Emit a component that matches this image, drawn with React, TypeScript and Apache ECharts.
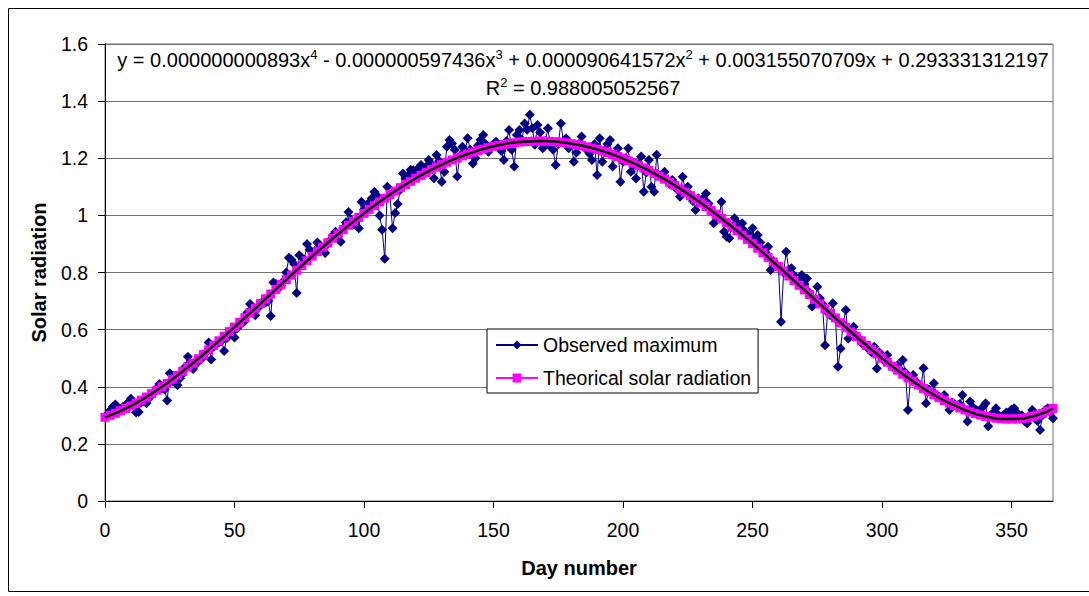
import React, { useEffect, useRef } from "react";
import * as echarts from "echarts";

const FONT = "'Liberation Sans', Arial, sans-serif";

const xTickValues = [0, 50, 100, 150, 200, 250, 300, 350];
const xMax = 366;
const yMin = 0;
const yMax = 1.6;
const yStep = 0.2;

const seriesNames = ["Observed maximum", "Theorical solar radiation"];
const xAxisTitle = "Day number";
const yAxisTitle = "Solar radiation";

// Observed maximum, days 1..366
const observedMax = [
  0.305, 0.318, 0.33, 0.338, 0.325, 0.322, 0.33, 0.335, 0.345, 0.358,
  0.34, 0.31, 0.312, 0.345, 0.35, 0.342, 0.36, 0.372, 0.38, 0.395,
  0.41, 0.395, 0.39, 0.352, 0.447, 0.42, 0.425, 0.405, 0.43, 0.445,
  0.47, 0.505, 0.48, 0.462, 0.478, 0.49, 0.495, 0.505, 0.52, 0.555,
  0.495, 0.54, 0.55, 0.555, 0.56, 0.525, 0.57, 0.58, 0.59, 0.572,
  0.605, 0.615, 0.625, 0.63, 0.66, 0.69, 0.665, 0.65, 0.675, 0.69,
  0.7, 0.695, 0.7, 0.648, 0.765, 0.76, 0.745, 0.755, 0.77, 0.8,
  0.852, 0.845, 0.83, 0.728, 0.86, 0.83, 0.845, 0.9, 0.88, 0.87,
  0.875, 0.905, 0.895, 0.88, 0.868, 0.9, 0.915, 0.93, 0.943, 0.925,
  0.908, 0.955, 0.975, 1.012, 0.985, 0.97, 0.98, 0.955, 1.048, 1.02,
  1.03, 1.045, 1.06, 1.083, 1.07, 1.0, 0.95, 0.848, 1.1, 1.07,
  0.955, 1.008, 1.04, 1.09, 1.147, 1.13, 1.14, 1.16, 1.158, 1.15,
  1.165, 1.176, 1.16, 1.17, 1.194, 1.18, 1.13, 1.211, 1.19, 1.118,
  1.153, 1.24, 1.264, 1.252, 1.23, 1.136, 1.21, 1.24, 1.225, 1.27,
  1.23, 1.182, 1.2, 1.245, 1.265, 1.281, 1.25, 1.223, 1.24, 1.25,
  1.258, 1.24, 1.225, 1.194, 1.26, 1.299, 1.23, 1.171, 1.281, 1.299,
  1.265, 1.322, 1.3, 1.352, 1.305, 1.247, 1.316, 1.29, 1.235, 1.26,
  1.305, 1.241, 1.23, 1.176, 1.25, 1.322, 1.258, 1.27, 1.235, 1.25,
  1.188, 1.22, 1.25, 1.276, 1.24, 1.23, 1.217, 1.194, 1.25, 1.141,
  1.27, 1.188, 1.23, 1.25, 1.264, 1.171, 1.21, 1.235, 1.118, 1.188,
  1.2, 1.235, 1.153, 1.17, 1.129, 1.18, 1.206, 1.083, 1.15, 1.194,
  1.1, 1.083, 1.212, 1.14, 1.13, 1.153, 1.12, 1.11, 1.124, 1.1,
  1.09, 1.065, 1.135, 1.09, 1.1, 1.071, 1.05, 1.019, 1.06, 1.045,
  1.06, 1.077, 1.042, 1.02, 0.972, 1.0, 0.99, 1.048, 0.943, 0.925,
  0.92, 0.96, 0.99, 0.975, 0.96, 0.972, 0.945, 0.93, 0.935, 0.955,
  0.92, 0.931, 0.905, 0.88, 0.87, 0.89, 0.809, 0.84, 0.83, 0.82,
  0.628, 0.8, 0.873, 0.81, 0.815, 0.79, 0.78, 0.77, 0.791, 0.76,
  0.779, 0.73, 0.681, 0.7, 0.75, 0.71, 0.69, 0.545, 0.66, 0.65,
  0.692, 0.64, 0.47, 0.534, 0.62, 0.669, 0.569, 0.6, 0.61, 0.58,
  0.57, 0.56, 0.545, 0.54, 0.53, 0.52, 0.54, 0.464, 0.52, 0.5,
  0.49, 0.511, 0.48, 0.47, 0.465, 0.475, 0.46, 0.494, 0.45, 0.319,
  0.43, 0.441, 0.42, 0.41, 0.4, 0.465, 0.342, 0.39, 0.385, 0.412,
  0.37, 0.365, 0.36, 0.371, 0.35, 0.319, 0.345, 0.34, 0.335, 0.34,
  0.371, 0.32, 0.278, 0.348, 0.33, 0.32, 0.315, 0.31, 0.33, 0.342,
  0.262, 0.3, 0.31, 0.325, 0.3, 0.29, 0.301, 0.31, 0.3, 0.32,
  0.325, 0.31, 0.29, 0.3, 0.28, 0.272, 0.3, 0.319, 0.3, 0.28,
  0.249, 0.3, 0.319, 0.325, 0.31, 0.29,
];
const observedFirstDay = 1;

// Theoretical solar radiation, read every 2 days from day 0
const theoreticalStep = 2;
const theoretical = [
  0.293, 0.3, 0.307, 0.316, 0.324, 0.333,
  0.343, 0.353, 0.364, 0.376, 0.388,
  0.4, 0.412, 0.426, 0.44, 0.454,
  0.469, 0.483, 0.498, 0.513, 0.529,
  0.545, 0.561, 0.577, 0.593, 0.609,
  0.625, 0.642, 0.658, 0.675, 0.691,
  0.708, 0.725, 0.741, 0.758, 0.775,
  0.791, 0.808, 0.824, 0.841, 0.857,
  0.873, 0.889, 0.904, 0.92, 0.935,
  0.95, 0.965, 0.979, 0.993, 1.007,
  1.021, 1.034, 1.047, 1.06, 1.073,
  1.085, 1.097, 1.108, 1.119, 1.13,
  1.14, 1.15, 1.16, 1.169, 1.178,
  1.186, 1.194, 1.201, 1.208, 1.215,
  1.221, 1.227, 1.232, 1.237, 1.242,
  1.245, 1.248, 1.251, 1.254, 1.257,
  1.258, 1.259, 1.26, 1.26, 1.26,
  1.259, 1.258, 1.256, 1.254, 1.251,
  1.248, 1.244, 1.24, 1.236, 1.231,
  1.226, 1.22, 1.213, 1.206, 1.199,
  1.191, 1.183, 1.174, 1.166, 1.157,
  1.147, 1.137, 1.127, 1.116, 1.105,
  1.093, 1.081, 1.069, 1.057, 1.044,
  1.031, 1.017, 1.003, 0.989, 0.975,
  0.96, 0.946, 0.931, 0.916, 0.901,
  0.885, 0.869, 0.853, 0.837, 0.821,
  0.805, 0.788, 0.772, 0.755, 0.739,
  0.723, 0.706, 0.69, 0.673, 0.657,
  0.641, 0.624, 0.608, 0.592, 0.576,
  0.561, 0.545, 0.53, 0.515, 0.5,
  0.486, 0.472, 0.458, 0.444, 0.431,
  0.419, 0.406, 0.394, 0.383, 0.372,
  0.362, 0.352, 0.343, 0.334, 0.326,
  0.319, 0.312, 0.306, 0.301, 0.296,
  0.293, 0.29, 0.288, 0.287, 0.287,
  0.287, 0.289, 0.291, 0.296, 0.301,
  0.307, 0.315, 0.324,
];

// Polynomial trendline, read every 10 days (and at day 366)
const trendDays = [
  0, 10, 20, 30, 40, 50, 60, 70, 80, 90, 100, 110, 120, 130, 140, 150, 160, 170, 180,
  190, 200, 210, 220, 230, 240, 250, 260, 270, 280, 290, 300, 310, 320, 330, 340, 350, 360, 366,
];
const trendValues = [
  0.293, 0.333, 0.388, 0.454, 0.529, 0.609, 0.691, 0.775, 0.857, 0.935, 1.007, 1.073, 1.13,
  1.178, 1.215, 1.242, 1.257, 1.26, 1.251, 1.231, 1.199, 1.157, 1.105, 1.044, 0.975, 0.901,
  0.821, 0.739, 0.657, 0.576, 0.5, 0.431, 0.372, 0.326, 0.296, 0.287, 0.301, 0.324,
];

// Trendline label parts: [normal, superscript] pairs
const equationParts: [string, string][] = [
  ["y = 0.000000000893x", "4"],
  [" - 0.000000597436x", "3"],
  [" + 0.000090641572x", "2"],
  [" + 0.003155070709x + 0.293331312197", ""],
];
const r2Parts: [string, string][] = [
  ["R", "2"],
  [" = 0.988005052567", ""],
];

function richText(parts: [string, string][]) {
  return parts
    .map(([n, s]) => `{n|${n}}` + (s ? `{s|${s}}` : ""))
    .join("");
}

export default function App() {
  const ref = useRef<HTMLDivElement>(null);

  useEffect(() => {
    document.body.style.margin = "0";
    if (!ref.current) return;
    const chart = echarts.init(ref.current, undefined, { renderer: "svg" });

    const observedData = observedMax.map((v, i) => [i + observedFirstDay, v]);
    const theoreticalData = theoretical.map((v, i) => [i * theoreticalStep, v]);
    const trendData = trendDays.map((d, i) => [d, trendValues[i]]);

    const rich = {
      n: { fontSize: 20, fontFamily: FONT, fill: "#000", lineHeight: 24 },
      s: { fontSize: 13, fontFamily: FONT, fill: "#000", lineHeight: 13, verticalAlign: "top" },
    };

    chart.setOption({
      animation: false,
      backgroundColor: "#fff",
      grid: {
        left: 105,
        right: 36,
        top: 44,
        bottom: 95,
        show: true,
        borderColor: "#707070",
        borderWidth: 1,
        backgroundColor: "transparent",
      },
      legend: {
        data: seriesNames,
        orient: "vertical",
        left: 487,
        top: 329,
        backgroundColor: "#fff",
        borderColor: "#000",
        borderWidth: 1,
        borderRadius: 0,
        padding: [6, 7, 5, 8],
        itemGap: 13,
        itemWidth: 42,
        itemHeight: 11,
        textStyle: { fontSize: 19.5, fontFamily: FONT, color: "#000" },
      },
      xAxis: {
        type: "value",
        min: 0,
        max: xMax,
        name: xAxisTitle,
        nameLocation: "middle",
        nameGap: 57,
        nameTextStyle: { fontSize: 20, fontWeight: "bold", fontFamily: FONT, color: "#000" },
        axisLine: { show: true, lineStyle: { color: "#000", width: 1 } },
        axisTick: { show: true, length: 7, inside: false, customValues: xTickValues, lineStyle: { color: "#000" } },
        axisLabel: { customValues: xTickValues, margin: 19, fontSize: 19.5, fontFamily: FONT, color: "#000" },
        splitLine: { show: false },
      },
      yAxis: {
        type: "value",
        min: yMin,
        max: yMax,
        interval: yStep,
        name: yAxisTitle,
        nameLocation: "middle",
        nameGap: 56,
        nameTextStyle: { fontSize: 20, fontWeight: "bold", fontFamily: FONT, color: "#000" },
        axisLine: { show: true, lineStyle: { color: "#000", width: 1 } },
        axisTick: { show: true, length: 7, inside: false, lineStyle: { color: "#000" } },
        axisLabel: { margin: 17, fontSize: 19.5, fontFamily: FONT, color: "#000" },
        splitLine: { show: true, lineStyle: { color: "#707070", width: 1 } },
      },
      series: [
        {
          name: seriesNames[0],
          type: "line",
          data: observedData,
          symbol: "diamond",
          symbolSize: 10,
          color: "#000080",
          lineStyle: { color: "#000080", width: 1 },
          itemStyle: { color: "#000080" },
          z: 2,
        },
        {
          name: seriesNames[1],
          type: "line",
          data: theoreticalData,
          symbol: "rect",
          symbolSize: 9,
          color: "#FF00FF",
          lineStyle: { color: "#FF00FF", width: 2 },
          itemStyle: { color: "#FF00FF" },
          z: 3,
        },
        {
          name: "Poly. trend",
          type: "line",
          data: trendData,
          smooth: true,
          symbol: "none",
          lineStyle: { color: "#000", width: 2.5 },
          z: 4,
        },
      ],
      graphic: [
        {
          type: "rect",
          shape: { x: 8.5, y: 8.5, width: 1300, height: 583 },
          style: { fill: "none", stroke: "#000", lineWidth: 1 },
          silent: true,
          z: 0,
        },
        {
          type: "text",
          x: 583,
          y: 60,
          style: {
            text: richText(equationParts),
            rich,
            align: "center",
            verticalAlign: "middle",
          },
          z: 10,
        },
        {
          type: "text",
          x: 583,
          y: 88,
          style: {
            text: richText(r2Parts),
            rich,
            align: "center",
            verticalAlign: "middle",
          },
          z: 10,
        },
      ],
    });

    return () => chart.dispose();
  }, []);

  return <div ref={ref} style={{ width: 1089, height: 596 }} />;
}
